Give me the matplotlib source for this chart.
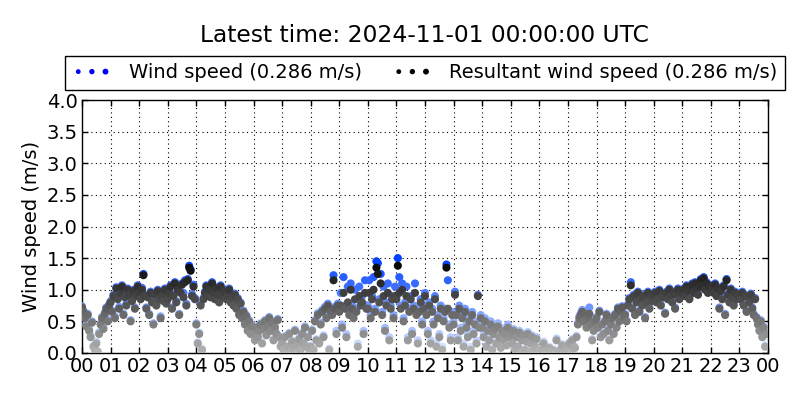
import numpy as np
import matplotlib
matplotlib.use("Agg")
import matplotlib.pyplot as plt
from matplotlib.colors import LinearSegmentedColormap, Normalize
from matplotlib.legend_handler import HandlerPathCollection

# ______________________________________________________
# ________________________ DATA ________________________

title = "Latest time: 2024-11-01 00:00:00 UTC"
label_ws = "Wind speed (0.286 m/s)"
label_rws = "Resultant wind speed (0.286 m/s)"
hour_labels = ["%02d" % h for h in range(24)] + ["00"]

# Resultant wind speed [m/s], 20 samples per hour (3 min)
rws = [
    [0.72, 0.65, 0.55, 0.42, 0.60, 0.35, 0.25, 0.48, 0.10, 0.05, 0.15, 0.02, 0.30, 0.45, 0.55, 0.38, 0.62, 0.70, 0.50, 0.75],
    [0.80, 0.65, 0.90, 0.55, 1.02, 0.85, 0.70, 0.95, 1.05, 0.60, 0.88, 0.75, 1.00, 0.92, 0.50, 0.82, 0.98, 0.70, 0.90, 1.05],
    [0.95, 0.85, 1.00, 1.23, 0.90, 0.70, 0.88, 0.60, 0.95, 0.80, 0.45, 0.92, 0.75, 0.98, 0.85, 0.55, 0.90, 0.82, 1.00, 0.78],
    [0.85, 0.95, 1.05, 0.70, 0.90, 1.10, 0.80, 1.00, 0.60, 0.95, 1.08, 0.88, 1.12, 0.75, 1.15, 1.35, 1.30, 0.90, 1.05, 0.85],
    [0.45, 0.15, 0.30, 0.75, 0.05, 0.85, 0.95, 1.05, 0.90, 1.00, 0.88, 1.10, 0.95, 0.85, 1.02, 0.92, 0.80, 1.05, 0.90, 0.98],
    [0.95, 0.85, 0.90, 1.00, 0.80, 0.88, 0.75, 0.92, 0.70, 0.85, 0.60, 0.78, 0.55, 0.65, 0.45, 0.58, 0.35, 0.50, 0.30, 0.42],
    [0.30, 0.20, 0.40, 0.25, 0.35, 0.45, 0.15, 0.38, 0.50, 0.28, 0.42, 0.55, 0.35, 0.48, 0.20, 0.40, 0.30, 0.52, 0.25, 0.10],
    [0.15, 0.05, 0.25, 0.00, 0.10, 0.30, 0.02, 0.18, 0.08, 0.35, 0.00, 0.12, 0.22, 0.05, 0.30, 0.15, 0.40, 0.10, 0.25, 0.05],
    [0.10, 0.35, 0.05, 0.50, 0.20, 0.60, 0.15, 0.45, 0.65, 0.25, 0.70, 0.55, 0.75, 0.05, 0.65, 0.60, 1.15, 0.70, 0.30, 0.75],
    [0.65, 0.75, 0.40, 0.95, 0.70, 0.25, 0.80, 0.60, 1.00, 0.70, 0.55, 0.85, 0.65, 0.10, 0.90, 0.75, 0.80, 0.30, 0.95, 0.70],
    [0.70, 0.95, 0.55, 0.85, 1.00, 0.65, 1.35, 1.25, 0.80, 1.10, 0.60, 0.90, 0.35, 0.75, 0.95, 0.20, 0.70, 0.85, 0.55, 0.90],
    [0.85, 1.38, 0.95, 0.70, 1.00, 0.50, 0.75, 0.90, 0.20, 0.65, 0.85, 0.30, 0.70, 0.95, 0.60, 0.15, 0.65, 0.80, 0.45, 0.70],
    [0.90, 0.60, 0.30, 0.75, 0.15, 0.65, 0.45, 0.85, 0.10, 0.55, 0.25, 0.70, 0.05, 0.50, 0.65, 1.35, 0.70, 0.40, 0.20, 0.60],
    [0.45, 0.92, 0.60, 0.20, 0.70, 0.35, 0.55, 0.10, 0.65, 0.40, 0.25, 0.50, 0.05, 0.60, 0.30, 0.45, 0.15, 0.90, 0.40, 0.55],
    [0.40, 0.25, 0.50, 0.10, 0.35, 0.20, 0.45, 0.05, 0.30, 0.38, 0.15, 0.42, 0.25, 0.08, 0.35, 0.20, 0.30, 0.12, 0.40, 0.25],
    [0.30, 0.15, 0.35, 0.05, 0.25, 0.10, 0.32, 0.00, 0.20, 0.28, 0.05, 0.18, 0.30, 0.02, 0.15, 0.25, 0.00, 0.10, 0.22, 0.05],
    [0.02, 0.00, 0.05, 0.15, 0.00, 0.03, 0.00, 0.08, 0.02, 0.00, 0.04, 0.00, 0.20, 0.02, 0.00, 0.05, 0.12, 0.00, 0.03, 0.10],
    [0.05, 0.15, 0.00, 0.20, 0.10, 0.08, 0.25, 0.45, 0.55, 0.60, 0.65, 0.50, 0.62, 0.40, 0.55, 0.62, 0.45, 0.20, 0.35, 0.50],
    [0.55, 0.40, 0.65, 0.25, 0.45, 0.30, 0.50, 0.60, 0.35, 0.20, 0.45, 0.55, 0.30, 0.60, 0.40, 0.70, 0.50, 0.65, 0.72, 0.58],
    [0.60, 0.50, 0.75, 0.85, 1.07, 0.70, 0.90, 0.60, 0.80, 0.95, 0.65, 0.85, 0.75, 0.90, 0.55, 0.80, 0.95, 0.70, 0.88, 0.82],
    [0.90, 0.95, 0.80, 0.85, 0.98, 0.75, 0.92, 0.88, 0.62, 0.95, 0.85, 1.00, 0.90, 0.80, 0.95, 0.70, 0.92, 1.00, 0.85, 0.95],
    [0.95, 1.00, 0.90, 1.05, 0.98, 0.85, 1.02, 1.08, 0.95, 1.10, 1.00, 0.92, 1.05, 1.15, 1.08, 1.18, 1.00, 1.10, 0.95, 1.05],
    [1.05, 1.00, 0.95, 1.08, 0.90, 1.02, 0.70, 0.98, 0.85, 1.05, 0.60, 1.15, 0.92, 0.80, 1.00, 0.88, 0.75, 0.95, 0.85, 0.90],
    [0.92, 0.85, 0.95, 0.75, 0.90, 0.65, 0.88, 0.80, 0.92, 0.70, 0.60, 0.85, 0.55, 0.45, 0.35, 0.50, 0.25, 0.40, 0.10, 0.30],
]

# Wind speed [m/s], same sampling
ws = [
    [0.74, 0.67, 0.58, 0.45, 0.62, 0.38, 0.28, 0.50, 0.12, 0.07, 0.18, 0.04, 0.33, 0.47, 0.57, 0.40, 0.64, 0.72, 0.53, 0.77],
    [0.82, 0.67, 0.92, 0.58, 1.04, 0.87, 0.73, 0.97, 1.07, 0.62, 0.90, 0.78, 1.02, 0.95, 0.52, 0.84, 1.00, 0.72, 0.93, 1.07],
    [0.97, 0.87, 1.03, 1.25, 0.92, 0.72, 0.90, 0.62, 0.97, 0.83, 0.47, 0.95, 0.77, 1.00, 0.87, 0.58, 0.92, 0.85, 1.02, 0.80],
    [0.88, 0.97, 1.07, 0.72, 0.93, 1.12, 0.82, 1.03, 0.62, 0.97, 1.10, 0.95, 1.15, 0.78, 1.17, 1.38, 1.32, 0.93, 1.08, 0.87],
    [0.47, 0.17, 0.32, 0.78, 0.07, 0.87, 0.97, 1.07, 0.93, 1.02, 0.90, 1.12, 0.97, 0.87, 1.04, 0.95, 0.82, 1.07, 0.92, 1.00],
    [0.97, 0.87, 0.92, 1.02, 0.82, 0.90, 0.77, 0.94, 0.72, 0.87, 0.62, 0.80, 0.57, 0.67, 0.47, 0.60, 0.37, 0.52, 0.32, 0.44],
    [0.32, 0.22, 0.42, 0.27, 0.37, 0.47, 0.17, 0.40, 0.52, 0.30, 0.44, 0.57, 0.37, 0.50, 0.22, 0.42, 0.32, 0.54, 0.27, 0.12],
    [0.17, 0.07, 0.27, 0.02, 0.12, 0.32, 0.04, 0.20, 0.10, 0.37, 0.02, 0.14, 0.24, 0.07, 0.32, 0.17, 0.42, 0.12, 0.27, 0.07],
    [0.12, 0.37, 0.07, 0.52, 0.22, 0.63, 0.17, 0.48, 0.68, 0.28, 0.73, 0.58, 0.78, 0.07, 0.68, 0.62, 1.23, 0.73, 0.35, 0.78],
    [0.70, 0.95, 0.45, 1.20, 0.75, 0.30, 1.05, 0.65, 1.10, 0.75, 0.60, 1.00, 0.70, 0.15, 1.05, 0.80, 0.90, 0.35, 1.15, 0.75],
    [0.75, 1.15, 0.60, 0.90, 1.20, 0.70, 1.45, 1.42, 0.85, 1.25, 0.65, 1.05, 0.40, 0.80, 1.10, 0.25, 0.75, 0.90, 0.60, 1.05],
    [0.90, 1.50, 1.20, 0.75, 1.10, 0.55, 0.80, 1.05, 0.25, 0.70, 0.90, 0.35, 0.75, 1.10, 0.65, 0.20, 0.70, 0.85, 0.50, 0.75],
    [0.95, 0.65, 0.35, 0.80, 0.20, 0.70, 0.50, 0.90, 0.15, 0.60, 0.30, 0.75, 0.10, 0.55, 0.70, 1.40, 1.15, 0.45, 0.25, 0.65],
    [0.50, 0.97, 0.65, 0.25, 0.75, 0.40, 0.60, 0.15, 0.70, 0.45, 0.30, 0.55, 0.10, 0.65, 0.35, 0.50, 0.20, 0.92, 0.45, 0.60],
    [0.45, 0.30, 0.55, 0.13, 0.40, 0.24, 0.50, 0.08, 0.34, 0.42, 0.18, 0.47, 0.29, 0.11, 0.39, 0.24, 0.34, 0.15, 0.45, 0.29],
    [0.33, 0.18, 0.38, 0.07, 0.28, 0.13, 0.35, 0.02, 0.23, 0.31, 0.07, 0.21, 0.33, 0.04, 0.18, 0.28, 0.02, 0.13, 0.25, 0.07],
    [0.04, 0.02, 0.07, 0.18, 0.02, 0.05, 0.02, 0.10, 0.04, 0.02, 0.06, 0.02, 0.23, 0.04, 0.02, 0.07, 0.14, 0.02, 0.05, 0.12],
    [0.07, 0.17, 0.02, 0.22, 0.12, 0.10, 0.27, 0.48, 0.58, 0.63, 0.68, 0.53, 0.65, 0.43, 0.58, 0.72, 0.48, 0.22, 0.38, 0.53],
    [0.57, 0.42, 0.67, 0.27, 0.47, 0.32, 0.52, 0.62, 0.37, 0.22, 0.47, 0.57, 0.32, 0.62, 0.42, 0.72, 0.52, 0.67, 0.74, 0.60],
    [0.62, 0.52, 0.77, 0.87, 1.12, 0.72, 0.92, 0.62, 0.82, 0.97, 0.67, 0.87, 0.77, 0.92, 0.57, 0.82, 0.97, 0.72, 0.90, 0.84],
    [0.92, 0.97, 0.82, 0.87, 1.00, 0.77, 0.94, 0.90, 0.64, 0.97, 0.87, 1.02, 0.92, 0.82, 0.97, 0.72, 0.94, 1.02, 0.87, 0.97],
    [0.97, 1.02, 0.92, 1.07, 1.00, 0.87, 1.04, 1.10, 0.97, 1.12, 1.02, 0.94, 1.07, 1.17, 1.10, 1.20, 1.02, 1.12, 0.97, 1.07],
    [1.07, 1.02, 0.97, 1.10, 0.92, 1.04, 0.72, 1.00, 0.87, 1.07, 0.62, 1.17, 0.94, 0.82, 1.02, 0.90, 0.77, 0.97, 0.87, 0.95],
    [0.94, 0.87, 0.97, 0.77, 0.92, 0.67, 0.90, 0.82, 0.94, 0.72, 0.62, 0.87, 0.57, 0.47, 0.37, 0.52, 0.27, 0.42, 0.12, 0.32],
]

RWS = np.array(rws).ravel()
WS = np.array(ws).ravel()
T = np.arange(len(RWS)) * 3 / 60.0       # time of day [h]

# _________________________________________________________
# ______________________ PLOTTING _________________________

blues = LinearSegmentedColormap.from_list("b", ["#e0ecff", "#0040ff"])
greys = LinearSegmentedColormap.from_list("g", ["#b4b4b4", "#000000"])
norm = Normalize(0, 1.45)

fig = plt.figure(figsize=(8, 4), dpi=100)
ax = fig.add_axes([0.1025, 0.1175, 0.8575, 0.6325])

ax.scatter(T, WS, c=WS, cmap=blues, norm=norm, s=34, linewidths=0, zorder=3)
ax.scatter(T, RWS, c=RWS, cmap=greys, norm=norm, s=34, linewidths=0, zorder=4)

# legend proxies
h1 = ax.scatter([], [], c="blue", s=14, linewidths=0)
h2 = ax.scatter([], [], c="black", s=14, linewidths=0)
leg = ax.legend([h1, h2], [label_ws, label_rws], ncol=2, loc="center",
                bbox_to_anchor=(0.5, 1.107), fontsize=14, scatterpoints=3,
                scatteryoffsets=[0.5], fancybox=False, framealpha=1,
                edgecolor="black", borderpad=0.4, columnspacing=1.6,
                handletextpad=0.9, handlelength=2.0,
                handler_map={h1: HandlerPathCollection(sizes=[12, 15, 18]),
                             h2: HandlerPathCollection(sizes=[12, 15, 18])})
leg.get_frame().set_linewidth(1.0)

ax.set_xlim(0, 24)
ax.set_ylim(0, 4)
ax.set_xticks(np.arange(25))
ax.set_xticklabels(hour_labels)
ax.set_yticks(np.arange(0, 4.01, 0.5))
ax.tick_params(direction="in", top=True, right=True, length=4, width=1,
               labelsize=14, pad=3)
ax.grid(True, color="black", linestyle=(0, (1, 3)), linewidth=0.8)
ax.set_axisbelow(True)
for sp in ax.spines.values():
    sp.set_linewidth(1.0)
ax.set_ylabel("Wind speed (m/s)", fontsize=14, labelpad=4)

# title centred over the axes
fig.text(0.531, 0.912, title, ha="center", va="center", fontsize=16.8)

fig.savefig("out.png", dpi=100)
